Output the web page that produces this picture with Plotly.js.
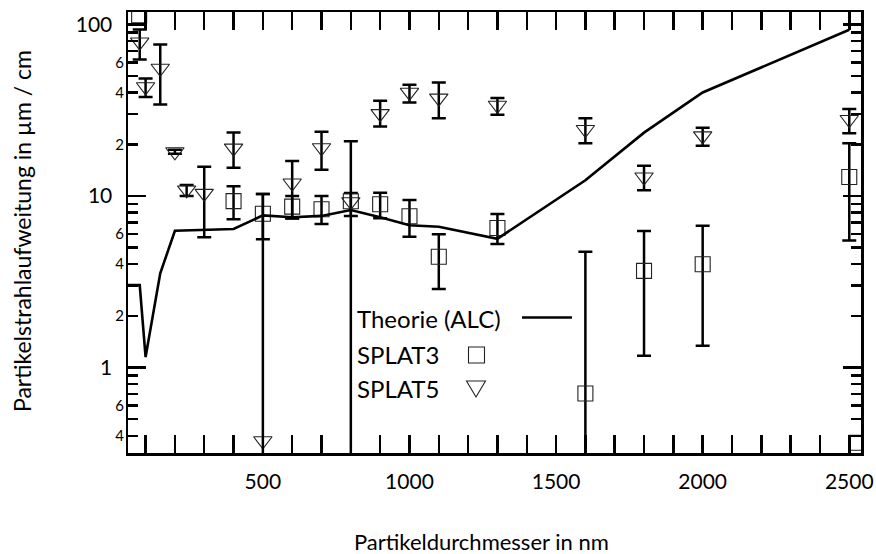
<!DOCTYPE html>
<html>
<head>
<meta charset="utf-8">
<script src="https://cdn.plot.ly/plotly-3.0.1.min.js"></script>
<style>html,body{margin:0;padding:0;background:#fff;}#chart{width:876px;height:554px;}</style>
</head>
<body>
<div id="chart"></div>
<script>
// ---- data ----
var theoryX = [40, 80, 100, 150, 200, 300, 400, 500, 600, 700, 800, 900, 1000, 1100, 1300, 1600, 1800, 2000, 2500];
var theoryY = [3.02, 3.02, 1.15, 3.54, 6.27, 6.35, 6.42, 7.7, 7.51, 7.65, 8.28, 7.51, 6.75, 6.62, 5.63, 12.35, 23.4, 40.1, 93.1];

var splat3X = [78, 400, 500, 600, 700, 800, 900, 1000, 1100, 1300, 1600, 1800, 2000, 2500, 2525];
var splat3Y = [113, 9.33, 7.87, 8.66, 8.37, 9.31, 8.95, 7.62, 4.42, 6.5, 0.705, 3.66, 4.0, 12.9, 0.364];
var splat3ErrPlus  = [NaN, 2.07, 2.4, 1.34, 1.63, 1.1, 1.5, 1.86, 1.56, 1.35, 4.03, 2.59, 2.71, 7.4, NaN];
var splat3ErrMinus = [NaN, 2.02, 2.28, 1.25, 1.5, 1.66, 1.54, 1.84, 1.55, 1.25, 4.03, 2.49, 2.66, 7.4, NaN];

var splat5X = [80, 100, 150, 200, 240, 300, 400, 500, 600, 700, 800, 900, 1000, 1100, 1300, 1600, 1800, 2000, 2500];
var splat5Y = [78.9, 43.3, 55.5, 18.1, 10.84, 10.35, 19.0, 0.374, 11.9, 19.1, 9.26, 30.2, 40.2, 37.2, 33.8, 24.4, 12.9, 22.4, 27.9];
var splat5ErrPlus  = [14.6, 5.1, 20.9, 0.5, 0.76, 4.45, 4.4, 9.9, 4.1, 4.6, 11.6, 5.7, 4.3, 8.7, 3.4, 4.0, 2.1, 2.6, 4.2];
var splat5ErrMinus = [16.4, 5.6, 21.4, 0.5, 0.84, 4.6, 4.4, 9.9, 4.5, 4.9, 11.6, 4.8, 5.1, 8.8, 4.1, 4.1, 2.1, 2.8, 4.7];

var xTickVals = [500, 1000, 1500, 2000, 2500];
var xTickText = ['500', '1000', '1500', '2000', '2500'];
var yMajorVals = [1, 10, 100];
var yMajorText = ['1', '10', '100'];
var yMinorLabelVals = [0.4, 0.6, 2, 4, 6, 20, 40, 60];
var yMinorLabelText = ['4', '6', '2', '4', '6', '2', '4', '6'];
var yMinorTickVals = [0.4, 0.5, 0.6, 0.7, 0.8, 0.9, 2, 3, 4, 5, 6, 7, 8, 9, 20, 30, 40, 50, 60, 70, 80, 90];

var legendNames = ['Theorie (ALC)', 'SPLAT3', 'SPLAT5'];
var xTitle = 'Partikeldurchmesser in nm';
var yTitle = 'Partikelstrahlaufweitung in µm / cm';

// ---- styling ----
var FONT = 'Lato, "Open Sans", sans-serif';
var INK = '#000';
var yRange = [-0.4985, 2.0724];

var errStyle = {thickness: 2.5, width: 7, color: INK};

var traces = [
  {
    x: splat3X, y: splat3Y, type: 'scatter', mode: 'markers', name: legendNames[1],
    marker: {symbol: 'square-open', size: 15, color: '#222', line: {width: 1.1}},
    error_y: Object.assign({type: 'data', symmetric: false, array: splat3ErrPlus, arrayminus: splat3ErrMinus, visible: true}, errStyle),
    showlegend: false, hoverinfo: 'x+y'
  },
  {
    x: splat5X, y: splat5Y, type: 'scatter', mode: 'markers', name: legendNames[2],
    marker: {symbol: 'triangle-down-open', size: 16, color: '#222', line: {width: 1.1}},
    error_y: Object.assign({type: 'data', symmetric: false, array: splat5ErrPlus, arrayminus: splat5ErrMinus, visible: true}, errStyle),
    showlegend: false, hoverinfo: 'x+y'
  },
  {
    x: theoryX, y: theoryY, type: 'scatter', mode: 'lines', name: legendNames[0],
    line: {color: INK, width: 2.6},
    showlegend: false, hoverinfo: 'x+y'
  },
  {
    // invisible carrier so the overlaying y axis with small labels is drawn
    x: [theoryX[0]], y: [theoryY[0]], type: 'scatter', mode: 'markers', yaxis: 'y2',
    marker: {opacity: 0}, showlegend: false, hoverinfo: 'skip'
  }
];

// plot area in pixels: x 128..861, y 12..453
var L = 128, R = 861, T = 12, B = 453;
function px(xp) { return (xp - L) / (R - L); }
function py(yp) { return (B - yp) / (B - T); }

var layout = {
  width: 876, height: 554,
  margin: {l: L, r: 876 - R, t: T, b: 554 - B, pad: 0},
  paper_bgcolor: '#fff', plot_bgcolor: '#fff',
  font: {family: FONT, color: INK, size: 21},
  showlegend: false,
  xaxis: {
    range: [40, 2540], showgrid: false, zeroline: false,
    showline: true, linecolor: INK, linewidth: 2.5, mirror: 'allticks',
    ticks: 'inside', ticklen: 18, tickwidth: 2.5, tickcolor: INK,
    tickmode: 'array', tickvals: xTickVals, ticktext: xTickText,
    tickfont: {family: FONT, size: 21, color: INK},
    ticklabelstandoff: 8,
    minor: {tick0: 0, dtick: 100, ticks: 'inside', ticklen: 9, tickwidth: 2.5, tickcolor: INK, showgrid: false}
  },
  yaxis: {
    type: 'log', range: yRange, showgrid: false, zeroline: false,
    showline: true, linecolor: INK, linewidth: 2.5, mirror: 'allticks',
    ticks: 'inside', ticklen: 18, tickwidth: 2.5, tickcolor: INK,
    tickmode: 'array', tickvals: yMajorVals, ticktext: yMajorText,
    tickfont: {family: FONT, size: 21, color: INK},
    ticklabelstandoff: 9,
    minor: {tickmode: 'array', tickvals: yMinorTickVals, ticks: 'inside', ticklen: 10, tickwidth: 2.5, tickcolor: INK, showgrid: false}
  },
  yaxis2: {
    type: 'log', range: yRange, overlaying: 'y', side: 'left',
    showgrid: false, zeroline: false, showline: false, ticks: '',
    tickmode: 'array', tickvals: yMinorLabelVals, ticktext: yMinorLabelText,
    tickfont: {family: FONT, size: 15, color: INK},
    ticklabelstandoff: 3
  },
  annotations: [
    {xref: 'paper', yref: 'paper', x: px(481), y: py(541), xanchor: 'center', yanchor: 'middle',
     text: xTitle, showarrow: false, font: {family: FONT, size: 22, color: INK}},
    {xref: 'paper', yref: 'paper', x: px(22), y: py(231), xanchor: 'center', yanchor: 'middle',
     text: yTitle, textangle: -90, showarrow: false, font: {family: FONT, size: 23, color: INK}},
    {xref: 'paper', yref: 'paper', x: px(355), y: py(318), xanchor: 'left', yanchor: 'middle',
     text: legendNames[0], showarrow: false, font: {family: FONT, size: 24, color: INK}},
    {xref: 'paper', yref: 'paper', x: px(355), y: py(354), xanchor: 'left', yanchor: 'middle',
     text: legendNames[1], showarrow: false, font: {family: FONT, size: 24, color: INK}},
    {xref: 'paper', yref: 'paper', x: px(355), y: py(388), xanchor: 'left', yanchor: 'middle',
     text: legendNames[2], showarrow: false, font: {family: FONT, size: 24, color: INK}}
  ],
  shapes: [
    {type: 'line', xref: 'paper', yref: 'paper', x0: px(522), x1: px(572), y0: py(317.5), y1: py(317.5),
     line: {color: INK, width: 2.6}},
    {type: 'rect', xref: 'paper', yref: 'paper', x0: px(468.5), x1: px(484.5), y0: py(363), y1: py(347),
     line: {color: '#222', width: 1.1}},
    {type: 'path', xref: 'paper', yref: 'paper',
     path: 'M ' + px(466.5) + ',' + py(381) + ' L ' + px(485.5) + ',' + py(381) + ' L ' + px(476) + ',' + py(397) + ' Z',
     line: {color: '#222', width: 1.1}}
  ]
};

Plotly.newPlot('chart', traces, layout, {displayModeBar: false, staticPlot: true});
</script>
</body>
</html>
